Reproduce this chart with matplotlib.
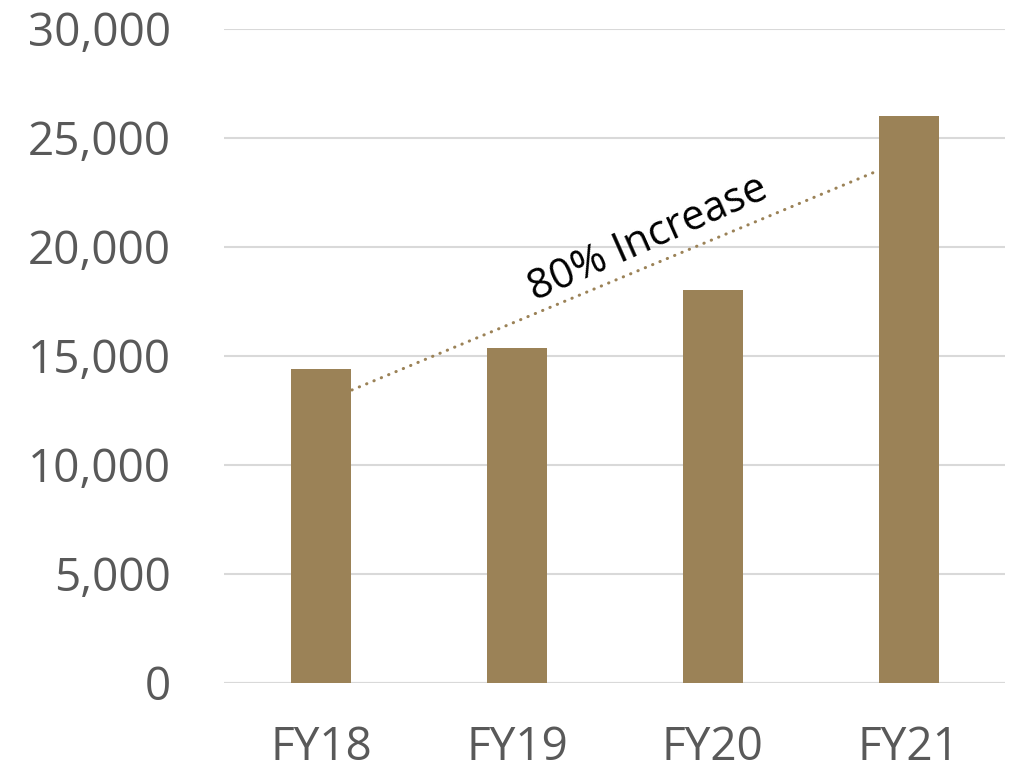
import numpy as np
import matplotlib.pyplot as plt

# Daten
years = ['FY18', 'FY19', 'FY20', 'FY21']
values = [14400, 15370, 18030, 26000]

# Trendlinie (Anfang/Ende) und Beschriftung
trend_x = [0.158, 2.84]
trend_y = [13440, 23490]
label = '80% Increase'

bar_color = '#9B8257'
grid_color = '#D9D9D9'
tick_color = '#595959'

plt.rcParams['font.family'] = ['Open Sans', 'DejaVu Sans']

fig = plt.figure(figsize=(10.12, 7.7), dpi=100)
ax = fig.add_axes([0.2213, 0.113, 0.7717, 0.8494])

x = np.arange(len(years))
ax.bar(x, values, width=0.31, color=bar_color, zorder=3)

ax.plot(trend_x, trend_y, color=bar_color, linewidth=2.2,
        linestyle=(0, (0.1, 2.5)), dash_capstyle='round', zorder=4)

ax.text(1.69, 19900, label, rotation=23.9, rotation_mode='anchor',
        ha='center', va='baseline', fontsize=30, color='black', zorder=5)

ax.set_xlim(-0.495, 3.49)
ax.set_ylim(0, 30000)
ax.set_yticks(np.arange(0, 30001, 5000))
ax.set_yticklabels([f'{v:,}' for v in range(0, 30001, 5000)])
ax.set_xticks(x)
ax.set_xticklabels(years)

ax.grid(axis='y', color=grid_color, linewidth=1.5, zorder=0)
for s in ['top', 'right', 'left', 'bottom']:
    ax.spines[s].set_visible(False)
ax.axhline(0, color=grid_color, linewidth=1.5, zorder=2)

ax.tick_params(axis='both', length=0, labelsize=33, colors=tick_color)
ax.tick_params(axis='y', pad=38)
ax.tick_params(axis='x', pad=30)

fig.savefig('out.png', dpi=100)
